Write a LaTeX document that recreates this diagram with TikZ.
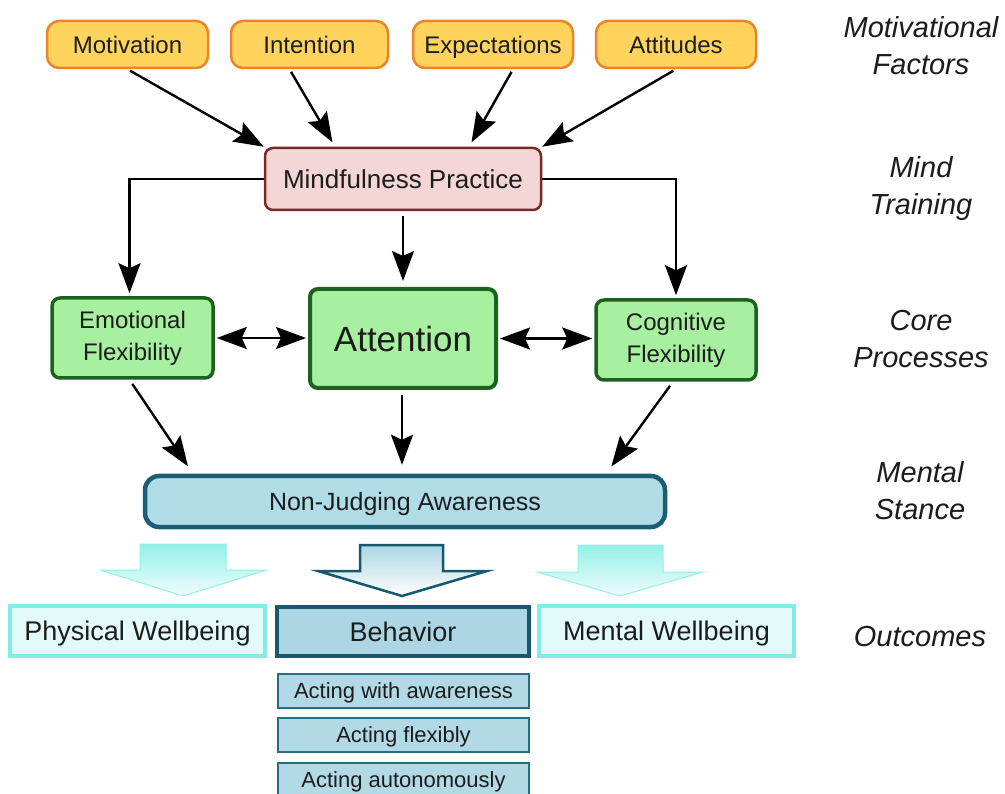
\documentclass[tikz,border=0pt]{standalone}
\usepackage{fontspec}
\setmainfont{Liberation Sans}
\usetikzlibrary{arrows.meta}
\definecolor{yfill}{RGB}{255,212,92}
\definecolor{ydraw}{RGB}{238,132,42}
\definecolor{pfill}{RGB}{244,214,214}
\definecolor{pdraw}{RGB}{122,40,40}
\definecolor{gfill}{RGB}{166,240,160}
\definecolor{gdraw}{RGB}{28,98,30}
\definecolor{nfill}{RGB}{176,220,232}
\definecolor{ndraw}{RGB}{26,94,118}
\definecolor{ofill}{RGB}{226,250,250}
\definecolor{odraw}{RGB}{128,238,228}
\definecolor{bfill}{RGB}{172,214,228}
\definecolor{bdraw}{RGB}{24,88,110}
\definecolor{afill}{RGB}{178,218,230}
\definecolor{adraw}{RGB}{40,110,130}
\definecolor{txt}{RGB}{28,28,28}
\tikzset{
  base/.style={text=txt, inner sep=0pt, align=center},
  one/.style={text height=#1, text depth=0pt},
  ybox/.style={base, one=17.2pt, draw=ydraw, fill=yfill, line width=2.5pt, rounded corners=12pt,
    minimum width=160pt, minimum height=47pt, font=\fontsize{24}{30}\selectfont},
  pbox/.style={base, one=18.7pt, draw=pdraw, fill=pfill, line width=2.5pt, rounded corners=8pt,
    minimum width=276pt, minimum height=62pt, font=\fontsize{26}{30}\selectfont},
  gbox/.style={base, draw=gdraw, fill=gfill, line width=3.5pt, rounded corners=8pt,
    minimum width=160pt, minimum height=80pt, font=\fontsize{24}{32}\selectfont},
  nbox/.style={base, one=18pt, draw=ndraw, fill=nfill, line width=4.5pt, rounded corners=14pt,
    minimum width=520pt, minimum height=51pt, font=\fontsize{25}{30}\selectfont},
  obox/.style={base, one=19.4pt, draw=odraw, fill=ofill, line width=4.5pt,
    minimum width=255pt, minimum height=50pt, font=\fontsize{27}{30}\selectfont},
  bbox/.style={base, one=19.4pt, draw=bdraw, fill=bfill, line width=4.5pt,
    minimum width=252pt, minimum height=49pt, font=\fontsize{27}{30}\selectfont},
  abox/.style={base, one=15.8pt, draw=adraw, fill=afill, line width=2pt,
    minimum width=251pt, minimum height=34pt, font=\fontsize{22}{26}\selectfont},
  lab/.style={base, font=\fontsize{29}{37}\itshape\selectfont},
  tip/.tip={Stealth[length=30pt,width=22pt,inset=5pt]},
  arr/.style={draw=black, line width=2.4pt, -tip},
  darr/.style={draw=black, line width=2.4pt, tip-tip},
  lightarrow/.style={top color=odraw!85, bottom color=ofill!50, draw=odraw!85, line width=1pt},
  darkarrow/.style={top color=bfill, bottom color=white, draw=bdraw, line width=2.5pt, line join=miter},
}
\begin{document}
\begin{tikzpicture}[x=1pt,y=-1pt]
\useasboundingbox (0,0) rectangle (1005,794);
\fill[white] (0,0) rectangle (1005,794);

% top factors
\node[ybox, minimum width=161pt] (mot) at (127.5,44.5) {Motivation};
\node[ybox, minimum width=157pt] (int) at (309.5,44.5) {Intention};
\node[ybox] (exp) at (493,44.5) {Expectations};
\node[ybox] (att) at (676,44.5) {Attitudes};

% mind training
\node[pbox] (mp) at (403,179) {Mindfulness Practice};

% core processes
\node[gbox, minimum width=161pt] (emo) at (132.5,338) {Emotional\\Flexibility};
\node[gbox, one=25.2pt, minimum width=186pt, minimum height=99pt, line width=4pt, font=\fontsize{35}{40}\selectfont] (attn) at (403,338.5) {Attention};
\node[gbox] (cog) at (676,340) {Cognitive\\Flexibility};

% mental stance
\node[nbox] (nja) at (405,501.5) {Non-Judging Awareness};

% outcomes
\node[obox] (phys) at (137.5,631) {Physical Wellbeing};
\node[bbox] (beh) at (403,631.5) {Behavior};
\node[obox] (ment) at (666.5,631) {Mental Wellbeing};

\node[abox] (a1) at (403.5,691) {Acting with awareness};
\node[abox] (a2) at (403.5,735) {Acting flexibly};
\node[abox] (a3) at (403.5,780) {Acting autonomously};

% right labels
\node[lab] (l1) at (921,45.5) {Motivational\\Factors};
\node[lab] (l2) at (921,189) {Mind\\Training};
\node[lab] (l3) at (921,339.5) {Core\\Processes};
\node[lab] (l4) at (920,491) {Mental\\Stance};
\node[lab] (l5) at (920,637) {Outcomes};

% arrows into mindfulness practice
\draw[arr, shorten <=3pt] (mot.south) -- (mp.north west);
\draw[arr, shorten <=3pt, shorten >=5pt] ([xshift=-20pt]int.south) -- ([xshift=-68pt]mp.north);
\draw[arr, shorten <=3pt, shorten >=5pt] ([xshift=20pt]exp.south) -- ([xshift=66pt]mp.north);
\draw[arr, shorten <=3pt] (att.south) -- (mp.north east);

% mindfulness to core processes
\draw[arr, shorten >=3pt] (mp.west) -| ([xshift=-3pt]emo.north);
\draw[arr, shorten <=5pt, shorten >=6pt] (mp.south) -- (mp.south |- attn.north);
\draw[arr, shorten >=3pt] (mp.east) -| (cog.north);

% lateral
\draw[darr, shorten <=2pt, shorten >=2pt] (emo.east) -- (emo.east -| attn.west);
\draw[darr, shorten <=2pt, shorten >=2pt] (attn.east) -- (attn.east -| cog.west);

% core to stance
\draw[arr, shorten <=5pt, shorten >=9pt] ([xshift=-3pt]emo.south) -- ([xshift=-212pt]nja.north);
\draw[arr, shorten <=5pt, shorten >=9pt] ([xshift=-1pt]attn.south) -- ([xshift=-3pt]nja.north);
\draw[arr, shorten <=5pt, shorten >=9pt] ([xshift=-3pt]cog.south) -- ([xshift=201pt]nja.north);

% hollow block arrows
\path[lightarrow] (140,544) -- (226,544) -- (226,570) -- (267,570) -- (183,596) -- (100,570) -- (140,570) -- cycle;
\path[darkarrow] (360,545) -- (443,545) -- (443,571) -- (487,571) -- (402,596) -- (318,571) -- (360,571) -- cycle;
\path[lightarrow] (578,545) -- (663,545) -- (663,572) -- (703,572) -- (620,596) -- (537,572) -- (578,572) -- cycle;
\end{tikzpicture}
\end{document}
